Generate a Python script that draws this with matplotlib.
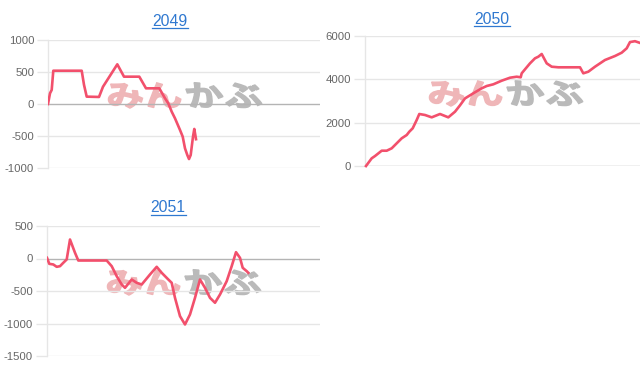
import matplotlib
matplotlib.use("Agg")
import matplotlib.pyplot as plt
from matplotlib.textpath import TextPath
from matplotlib.patches import PathPatch
from matplotlib.font_manager import FontProperties
from matplotlib.transforms import Affine2D, IdentityTransform
from matplotlib.lines import Line2D

plt.rcParams['font.family'] = ['Liberation Sans', 'DejaVu Sans']

# ---------------- data ----------------
titles = ["2049", "2050", "2051"]

x_2049 = [0, 2, 3.7, 5.3, 33.7, 36, 38.7, 51, 55, 69.3, 76, 91.3, 98, 111.3,
          117, 120.3, 123.7, 127, 132, 134.7, 137, 139.3, 141, 142.7, 145, 146.3, 148]
y_2049 = [0, 167, 220, 520, 520, 300, 115, 110, 270, 620, 427, 427, 245, 245,
          89, 10, -120, -224, -406, -510, -693, -797, -860, -797, -510, -390, -550]
yticks_2049 = [-1000, -500, 0, 500, 1000]

x_2050 = [1, 6.7, 10, 16.7, 21.7, 26.7, 31.7, 36.7, 41.7, 44.3, 47.7, 51.7, 54.3,
          60, 66.7, 75, 83.3, 90, 95, 100, 108.3, 116.7, 121.7, 128.3, 136.7,
          145, 151.7, 155.7, 156.7, 160, 165, 170, 173.3, 176.7, 181.7, 186.7,
          193.3, 215, 218.3, 223.3, 230, 240, 250, 256.7, 261.7, 265, 270, 275]
y_2050 = [0, 355, 460, 706, 706, 816, 1047, 1278, 1430, 1583, 1740, 2123, 2400,
          2354, 2246, 2400, 2246, 2506, 2800, 3120, 3355, 3585, 3692, 3770, 3937,
          4075, 4121, 4094, 4278, 4462, 4738, 4970, 5044, 5169, 4738, 4583,
          4555, 4555, 4278, 4352, 4583, 4892, 5077, 5230, 5432, 5720, 5760, 5680]
yticks_2050 = [0, 2000, 4000, 6000]

x_2051 = [0, 2.3, 6.3, 9.7, 13, 16.3, 19.7, 23, 28, 31.3, 59.7, 64.7, 69.7, 74.7,
          78, 84.7, 89.7, 94.7, 103, 109.7, 114.7, 121.3, 124.7, 128, 133, 138,
          143, 148, 153, 158, 163, 168, 173, 179.7, 184.7, 189, 193, 195.7,
          199.7, 201.3]
y_2051 = [10, -82, -92, -128, -118, -66, -15, 292, 88, -31, -31, -118, -272,
          -400, -451, -323, -374, -400, -246, -128, -220, -323, -374, -605,
          -887, -1015, -861, -605, -323, -451, -605, -681, -554, -349, -118,
          97, 10, -143, -195, -220]
yticks_2051 = [-1500, -1000, -500, 0, 500]

# ---------------- style ----------------
W, H = 640, 372
LINE = '#f2506c'
GRID = '#e6e6e6'
ZERO = '#b4b4b4'
TICK = '#666666'
TITLE_C = '#2f78d0'

fig = plt.figure(figsize=(W / 100, H / 100), dpi=100)
fig.patch.set_facecolor('white')


def px_axes(left, right, top, bottom):
    return fig.add_axes([left / W, (H - bottom) / H, (right - left) / W, (bottom - top) / H])


def style(ax, yticks, ylim, xlim):
    ax.set_xlim(*xlim)
    ax.set_ylim(*ylim)
    ax.set_yticks(yticks)
    ax.set_yticklabels([str(v) for v in yticks])
    ax.set_xticks([])
    for s in ['top', 'right', 'bottom']:
        ax.spines[s].set_visible(False)
    ax.spines['left'].set_color(GRID)
    ax.spines['left'].set_linewidth(1)
    ax.tick_params(axis='y', length=8, width=1, color=GRID, pad=2,
                   labelsize=8.2, labelcolor=TICK)
    for v in yticks:
        ax.axhline(v, color=ZERO if v == 0 else GRID, lw=1, zorder=0.5)
    ax.set_facecolor('none')


def watermark(cx, cy):
    fp = FontProperties(family='Noto Sans CJK JP', weight='bold')
    parts = [("みん", '#efb6b8', -78), ("かぶ", '#bababa', 2)]
    for txt, col, dx in parts:
        tp = TextPath((0, 0), txt, size=1, prop=fp)
        tr = Affine2D().scale(38, 29).skew_deg(-14, 0).translate(cx + dx, H - cy - 12)
        patch = PathPatch(tp, facecolor=col, edgecolor=col, lw=1.0,
                          transform=tr, zorder=1)
        fig.add_artist(patch)


title_texts = []


def title(cx, cy, s):
    t = fig.text(cx / W, (H - cy) / H, s, ha='center', va='center', color=TITLE_C, fontsize=11.3)
    title_texts.append(t)


# panel 2049
ax1 = px_axes(48, 320, 40, 168)
style(ax1, yticks_2049, (-1000, 1000), (0, 272))
ax1.plot(x_2049, y_2049, color=LINE, lw=1.9, solid_joinstyle='round', zorder=3)
title(170, 21, titles[0])
watermark(186, 94)

# panel 2050
ax2 = px_axes(365, 640, 36, 166)
style(ax2, yticks_2050, (0, 6000), (0, 275))
ax2.plot(x_2050, y_2050, color=LINE, lw=1.9, solid_joinstyle='round', zorder=3, clip_on=False)
title(492, 19, titles[1])
watermark(507, 92)

# panel 2051
ax3 = px_axes(47, 320, 226, 356)
style(ax3, yticks_2051, (-1500, 500), (0, 273))
ax3.plot(x_2051, y_2051, color=LINE, lw=1.9, solid_joinstyle='round', zorder=3)
title(168, 208, titles[2])
watermark(185, 281)

for ax in (ax1, ax2, ax3):
    ax.set_zorder(2)

# underline titles
fig.canvas.draw()
r = fig.canvas.get_renderer()
for t in title_texts:
    bb = t.get_window_extent(r)
    y = bb.y0 + 1
    fig.add_artist(Line2D([bb.x0, bb.x1], [y, y], transform=IdentityTransform(),
                          color=TITLE_C, lw=0.9))

fig.savefig('out.png', dpi=100)
